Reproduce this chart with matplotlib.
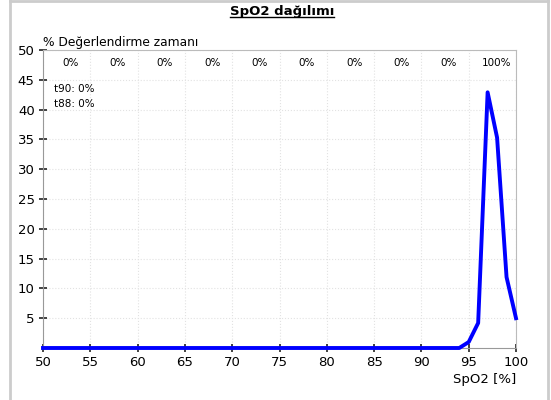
import numpy as np
import matplotlib.pyplot as plt
from matplotlib.lines import Line2D

spo2 = list(range(50, 101))
share = [0.0] * 45 + [1.0, 4.2, 42.9, 35.3, 11.9, 5.0]
band_labels = ["0%"] * 9 + ["100%"]
band_centers = [52.5, 57.5, 62.5, 67.5, 72.5, 77.5, 82.5, 87.5, 92.5, 97.5]

fig = plt.figure(figsize=(5.51, 4.0), dpi=100)
ax = fig.add_axes([43 / 551, 52 / 400, 473 / 551, 298 / 400])

ax.plot(spo2, share, color="#0000ff", lw=2.8, clip_on=False, zorder=5)

ax.set_xlim(50, 100)
ax.set_ylim(0, 50)
ax.set_xticks(range(50, 101, 5))
ax.set_yticks(range(5, 51, 5))
ax.tick_params(direction="inout", length=6, width=1.2, labelsize=9.5, pad=3, color="#222222")
ax.grid(True, ls=":", color="#e2e2e2", lw=0.8)
for s in ["top", "right"]:
    ax.spines[s].set_color("#bbbbbb")
for s in ["left", "bottom"]:
    ax.spines[s].set_color("#999999")

for c, lab in zip(band_centers, band_labels):
    ax.text(c + 0.4, 47.9, lab, ha="center", va="center", fontsize=7.5)

ax.text(0.0, 1.005, "% Değerlendirme zamanı", transform=ax.transAxes,
        ha="left", va="bottom", fontsize=8.8)
ax.text(51.2, 43.5, "t90: 0%", ha="left", va="center", fontsize=7.5)
ax.text(51.2, 41.0, "t88: 0%", ha="left", va="center", fontsize=7.5)
ax.text(1.0, -0.085, "SpO2 [%]", transform=ax.transAxes, ha="right", va="top", fontsize=9.5)

title = fig.text(282 / 551, 1 - 11 / 400, "SpO2 dağılımı", ha="center", va="center",
                 fontsize=9.5, fontweight="bold")
fig.canvas.draw()
bb = title.get_window_extent().transformed(fig.transFigure.inverted())
fig.add_artist(Line2D([bb.x0, bb.x1], [bb.y0 + 0.002, bb.y0 + 0.002], color="black", lw=1))

# outer frame
fig.add_artist(Line2D([10 / 551, 10 / 551], [0, 1], color="#cccccc", lw=2))
fig.add_artist(Line2D([548 / 551, 548 / 551], [0, 1], color="#cccccc", lw=2))
fig.add_artist(Line2D([10 / 551, 548 / 551], [0.997, 0.997], color="#cccccc", lw=2))

fig.savefig("out.png", dpi=100)
